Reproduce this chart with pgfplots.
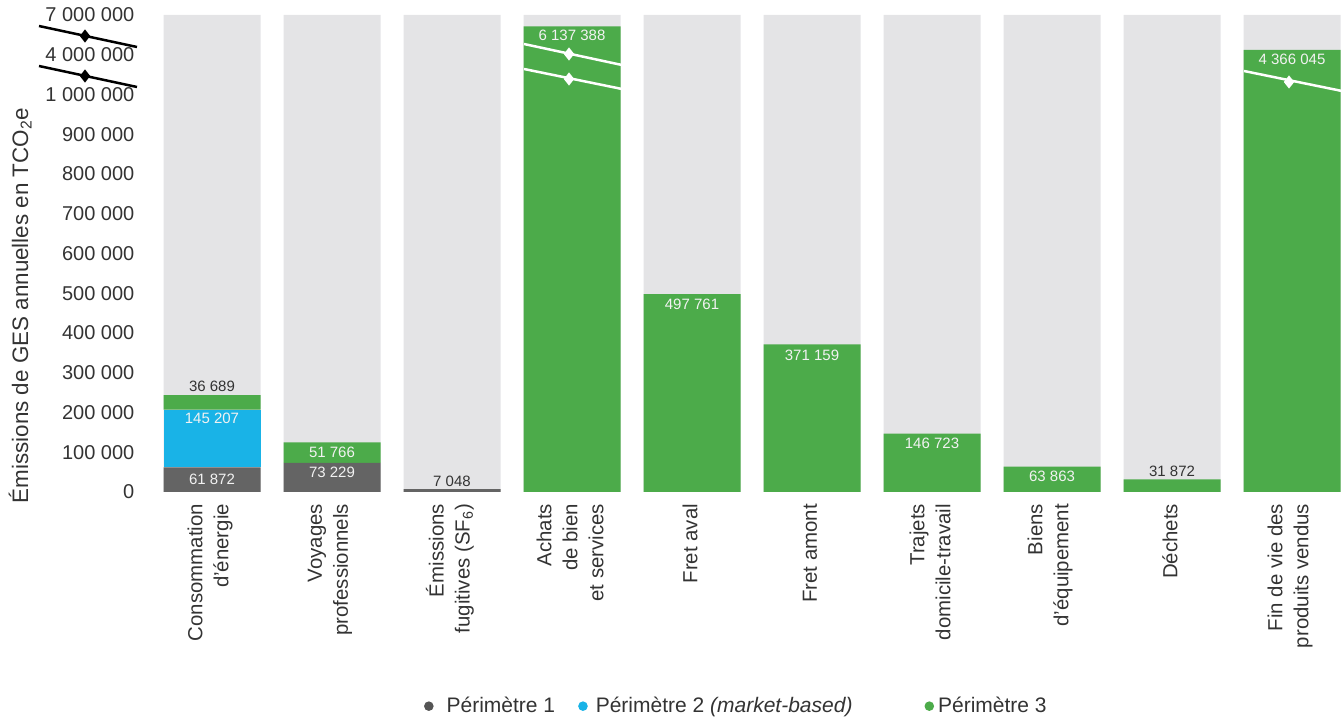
\documentclass[border=0pt]{standalone}
\usepackage{pgfplots}
\pgfplotsset{compat=1.18}
\usepackage{pgfplotstable}
\usepackage{fontspec}
\setmainfont{Liberation Sans}
\definecolor{pone}{HTML}{646464}
\definecolor{ptwo}{HTML}{19B3E7}
\definecolor{pthree}{HTML}{4CAB4A}
\definecolor{bg}{HTML}{E4E4E6}
\definecolor{txt}{HTML}{333333}
\definecolor{lone}{HTML}{555555}
\definecolor{wtxt}{HTML}{F2F2F2}

% x = category index; values in tCO2e
\pgfplotstableread{
x p1 p2 p3
0 61872 145207 36689
1 73229 0 51766
2 7048 0 0
3 0 0 6137388
4 0 0 497761
5 0 0 371159
6 0 0 146723
7 0 0 63863
8 0 0 31872
9 0 0 4366045
}\data

\pgfplotsset{
  base/.style={
    width=588.8pt, height=238.5pt, scale only axis,
    xmin=-0.405, xmax=9.408, ymin=0, ymax=1200000,
    axis line style={draw=none}, major tick length=0pt,
    clip=false, scaled ticks=false,
  },
}
\tikzset{vl/.style={font=\fontsize{7.5}{9}\selectfont, inner sep=0pt}}
\newcommand{\dmd}[2]{\fill[#1] (#2) +(0pt,3.3pt) -- +(2.6pt,0pt) -- +(0pt,-3.3pt) -- +(-2.6pt,0pt) -- cycle;}
\begin{document}
\begin{tikzpicture}
% grey background columns
\begin{axis}[base, xtick=\empty, ytick=\empty]
\addplot[ybar, fill=bg, draw=none, bar width=48.5pt] coordinates {
(0,1200000) (1,1200000) (2,1200000) (3,1200000) (4,1200000)
(5,1200000) (6,1200000) (7,1200000) (8,1200000) (9,1200000)};
\end{axis}
% data
\begin{axis}[base, ybar stacked, bar width=48.5pt,
  xtick={0,1,2,3,4,5,6,7,8,9},
  xticklabels={{Consommation\\d’énergie},{Voyages\\professionnels},{Émissions\\fugitives (SF\textsubscript{6})},{Achats\\de bien\\et services},{Fret aval},{Fret amont},{Trajets\\domicile-travail},{Biens\\d’équipement},{Déchets},{Fin de vie des\\produits vendus}},
  xticklabel style={rotate=90, anchor=east, align=right, text=txt,
    font=\fontsize{10.2}{13}\selectfont, xshift=-2.5pt, yshift=1pt},
  ytick={0,100000,200000,300000,400000,500000,600000,700000,800000,900000,1000000,1100000,1200000},
  yticklabels={0,100 000,200 000,300 000,400 000,500 000,600 000,700 000,800 000,900 000,1 000 000,4 000 000,7 000 000},
  yticklabel style={text=txt, font=\fontsize{10}{12}\selectfont, xshift=-11pt},
  ylabel={Émissions de GES annuelles en TCO\textsubscript{2}e},
  ylabel style={at={(ticklabel cs:0.41)}, text=txt, font=\fontsize{11.2}{13}\selectfont, xshift=-4.5pt},
  legend style={at={(0.4874,-0.449)}, anchor=center, draw=none, fill=none,
    legend columns=3, font=\fontsize{10.5}{12}\selectfont, text=txt,
    /tikz/every even column/.append style={column sep=7pt}},
  legend cell align=left,
]
\addplot[fill=pone, draw=none, legend image code/.code={\fill[lone] (0pt,0pt) circle (2.4pt);}]
  table[x=x, y=p1] {\data};
\addlegendentry{\hspace*{4.5pt}Périmètre 1\hspace*{2.5pt}}
\addplot[fill=ptwo, draw=none, legend image code/.code={\fill[ptwo] (0pt,0pt) circle (2.4pt);}]
  table[x=x, y=p2] {\data};
\addlegendentry{\hspace*{2pt}Périmètre 2 \textit{(market-based)}\hspace*{27pt}}
\addplot[fill=pthree, draw=none, legend image code/.code={\fill[pthree] (0pt,0pt) circle (2.4pt);}]
  table[x=x, y expr={min(\thisrow{p3},1000000)+max(\thisrow{p3}-1000000,0)/30}] {\data};
\addlegendentry{Périmètre 3}
\end{axis}
% value labels and axis-break symbols, drawn on top
\begin{axis}[base, xtick=\empty, ytick=\empty]
\node[vl, text=wtxt] at (axis cs:0,30936) {61 872};
\node[vl, text=wtxt, yshift=-4.2pt] at (axis cs:0,207079) {145 207};
\node[vl, text=txt, yshift=4.5pt] at (axis cs:0,243768) {36 689};
\node[vl, text=wtxt, yshift=-4.5pt] at (axis cs:1,73229) {73 229};
\node[vl, text=wtxt] at (axis cs:1,99112) {51 766};
\node[vl, text=txt, yshift=4pt] at (axis cs:2,7048) {7 048};
\node[vl, text=wtxt, yshift=-4.3pt] at (axis cs:3,1171246) {6 137 388};
\node[vl, text=wtxt, yshift=-5pt] at (axis cs:4,497761) {497 761};
\node[vl, text=wtxt, yshift=-5.5pt] at (axis cs:5,371159) {371 159};
\node[vl, text=wtxt, yshift=-4.7pt] at (axis cs:6,146723) {146 723};
\node[vl, text=wtxt, yshift=-5pt] at (axis cs:7,63863) {63 863};
\node[vl, text=txt, yshift=4pt] at (axis cs:8,31872) {31 872};
\node[vl, text=wtxt, yshift=-4.8pt] at (axis cs:9,1112201) {4 366 045};

\draw[black, line width=1.25pt] (axis cs:-1.4417,1172327) -- (axis cs:-0.625,1119497);
\draw[black, line width=1.25pt] (axis cs:-1.4417,1071698) -- (axis cs:-0.625,1018868);
\dmd{black}{axis cs:-1.0583,1147170}
\dmd{black}{axis cs:-1.0583,1046541}
\draw[white, line width=1.25pt] (axis cs:2.6,1127044) -- (axis cs:3.4167,1074214);
\draw[white, line width=1.25pt] (axis cs:2.6,1064151) -- (axis cs:3.4167,1013836);
\dmd{white}{axis cs:2.975,1101887}
\dmd{white}{axis cs:2.975,1038994}
\draw[white, line width=1.25pt] (axis cs:8.6,1059119) -- (axis cs:9.4167,1008805);
\dmd{white}{axis cs:8.975,1031447}
\coordinate (bbl) at (axis cs:-1.7667,-568553);
\coordinate (btr) at (axis cs:9.4333,1237736);
\end{axis}
\pgfresetboundingbox
\path[use as bounding box] (bbl) rectangle (btr);
\end{tikzpicture}
\end{document}
